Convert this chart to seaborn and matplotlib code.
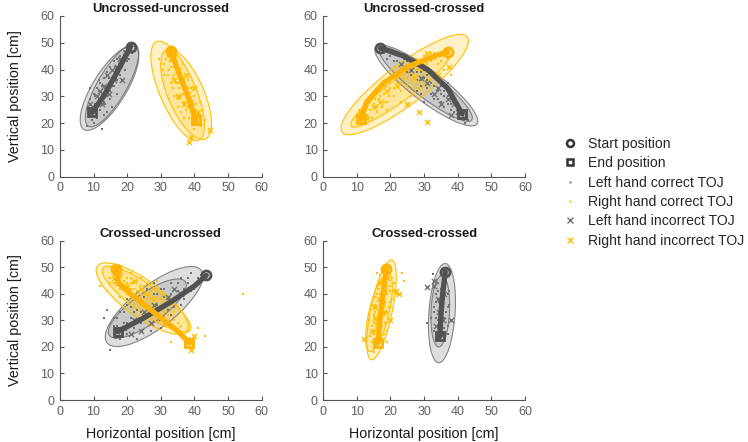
import matplotlib
matplotlib.use('Agg')
import matplotlib.pyplot as plt
from matplotlib.patches import Ellipse
from matplotlib.lines import Line2D
import seaborn as sns

# ---- data (cm) ----
titles = ['Uncrossed-uncrossed', 'Uncrossed-crossed', 'Crossed-uncrossed', 'Crossed-crossed']
ticks = [0, 10, 20, 30, 40, 50, 60]

# Uncrossed-uncrossed
uu_left_correct = [(8.5, 26), (9, 29), (9.5, 24), (10, 31), (10.5, 27), (11, 22), (11, 33), (11.5, 29),
                   (12, 25), (12, 35), (12.5, 31), (13, 28), (13, 37), (13.5, 33), (14, 30), (14, 39),
                   (14.5, 35), (15, 32), (15, 41), (15.5, 37), (16, 34), (16, 43), (16.5, 39), (17, 36),
                   (17.5, 42), (18, 38), (18, 45), (18.5, 41), (19, 44), (19.5, 40), (20, 46), (20, 43),
                   (21, 47), (12.5, 18), (8, 19), (10, 20), (15.5, 26), (17, 31), (9, 33), (13, 23),
                   (9.5, 21), (10, 26), (10.5, 30), (11, 25), (11.5, 32), (12, 28), (12.5, 34), (13, 31),
                   (13.5, 27), (14, 33), (14.5, 37), (15, 29), (15.5, 34), (16, 38), (16.5, 41), (17, 44),
                   (17.5, 39), (18.5, 43), (19, 47), (20.5, 44), (21.5, 46), (14, 24), (11.5, 36)]
uu_left_incorrect = [(10, 24), (11, 30), (12.5, 27), (13, 34), (14.5, 31), (15.5, 40), (16, 36),
                     (17, 41), (18, 44), (18.5, 36), (19.5, 45), (14, 38), (9, 27), (12, 32)]
uu_right_correct = [(29.5, 44), (31, 42), (32, 45), (32.5, 40), (33, 43), (33.5, 37), (34, 41), (34.5, 35),
                    (35, 39), (35.5, 33), (36, 37), (36, 30), (36.5, 34), (37, 28), (37.5, 32), (38, 26),
                    (38, 36), (38.5, 30), (39, 24), (39, 33), (39.5, 27), (40, 22), (40, 30), (40.5, 25),
                    (41, 20), (41.5, 28), (42, 22), (42.5, 25), (34, 30), (35, 26), (37, 22), (33, 35),
                    (31, 38), (40, 18), (43, 21), (36.5, 42),
                    (30.5, 40), (31.5, 44), (32, 38), (33, 41), (34, 38), (34.5, 43), (35, 35), (35.5, 29),
                    (36.5, 31), (37, 36), (37.5, 25), (38, 33), (38.5, 22), (39, 29), (39.5, 20), (40.5, 27),
                    (41, 23), (42, 19), (36, 24), (33.5, 33), (34.5, 45), (32.5, 47)]
uu_right_incorrect = [(33, 44), (35, 40), (36, 36), (37.5, 38), (38, 31), (39, 28), (40, 33), (41, 24),
                      (38.5, 13), (39, 15), (44.5, 17.5), (35, 30), (37, 27), (34, 36)]
uu_left_path = [(21, 48.5), (17, 39), (13, 30), (9.5, 24)]
uu_right_path = [(33, 47), (35, 40), (38, 30), (40.5, 21)]
uu_left_ellipses = [(14.75, 33.1, 34.5, 10.5, 65), (15.5, 34, 33.4, 9, 66)]
uu_right_ellipses = [(35, 32, 38.9, 11, -72), (37.5, 30.75, 35.3, 11, -72)]

# Uncrossed-crossed
uc_left_correct = [(18, 46), (20, 45), (21, 47), (22, 43), (23, 45), (24, 41), (25, 43), (25, 39),
                   (26, 42), (27, 38), (27, 41), (28, 36), (29, 39), (29, 34), (30, 37), (31, 33),
                   (31, 36), (32, 31), (33, 34), (33, 29), (34, 32), (35, 28), (35, 31), (36, 26),
                   (36, 30), (37, 27), (38, 25), (38, 29), (39, 24), (40, 26), (41, 22), (42, 24),
                   (43, 21), (30, 28), (28, 32), (24, 37), (32, 40), (37, 35),
                   (19, 44), (21, 43), (22, 46), (23, 40), (24, 44), (26, 38), (27, 43), (28, 39),
                   (29, 36), (30, 40), (31, 38), (32, 35), (33, 37), (34, 29), (35, 34), (36, 32),
                   (37, 30), (38, 27), (39, 28), (40, 23), (41, 25), (42, 20), (34, 36), (29, 31)]
uc_left_incorrect = [(23, 42), (26, 40), (29, 37), (31, 35), (33, 31), (34, 33), (35, 27), (37, 29),
                     (38, 23), (39, 27), (40, 24), (42, 22)]
uc_right_correct = [(10.5, 22), (11, 25), (12, 21), (12, 27), (13, 23), (13.5, 29), (14, 25), (15, 31),
                    (15, 27), (16, 24), (16.5, 29), (17, 33), (17.5, 26), (18, 31), (19, 35), (19, 28),
                    (20, 33), (20.5, 37), (21, 30), (22, 35), (22.5, 39), (23, 32), (24, 37), (25, 40),
                    (25, 34), (26, 42), (27, 38), (28, 44), (29, 40), (30, 45), (31, 42), (32, 46),
                    (33, 44), (34, 42), (35, 45), (36, 40), (37, 44), (38, 38), (26, 30), (21, 41),
                    (11.5, 23), (12.5, 24), (13, 26), (14, 28), (14.5, 22), (15.5, 29), (16, 26), (17, 30),
                    (18, 28), (18.5, 34), (19.5, 30), (20, 35), (21, 33), (22, 37), (23, 35), (24, 40),
                    (25, 37), (26, 39), (27, 41), (28, 40), (29, 43), (30, 41), (32, 43), (33, 46),
                    (35, 43), (36, 46), (23, 28), (19, 25)]
uc_right_incorrect = [(11, 24), (13, 22), (15, 26), (17, 28), (19, 32), (22, 34), (25, 27), (27, 37),
                      (30, 43), (31, 46), (28.5, 24), (31, 20.5), (37.5, 41), (34, 38)]
uc_left_path = [(17, 48), (24, 45), (31, 40), (37, 33), (41.3, 23.5)]
uc_right_path = [(37, 46.6), (33, 45), (25, 41), (18, 35), (13, 28), (11.2, 21.5)]
uc_left_ellipses = [(30.65, 34.05, 41.7, 10.5, -44.6), (30.5, 34.5, 38.2, 8.5, -45)]
uc_right_ellipses = [(24.25, 34.4, 51.5, 13.5, 44.6), (23, 32.5, 40.1, 7.5, 43.3)]

# Crossed-uncrossed
cu_left_correct = [(15, 19), (16, 31), (16, 25), (17, 28), (18, 33), (18, 23), (19, 29), (20, 36),
                   (20, 25), (21, 31), (22, 38), (22, 27), (23, 34), (24, 40), (24, 29), (25, 36),
                   (26, 42), (26, 31), (27, 38), (28, 33), (28, 44), (29, 40), (30, 35), (31, 42),
                   (31, 30), (32, 38), (33, 44), (34, 35), (35, 41), (36, 46), (37, 38), (38, 44),
                   (39, 48), (40, 42), (41, 46), (42, 47), (14, 34), (13, 31), (23, 23), (30, 27),
                   (16, 28), (17, 31), (18, 26), (19, 33), (20, 29), (21, 35), (22, 33), (23, 38),
                   (24, 33), (25, 39), (26, 36), (27, 33), (28, 40), (29, 36), (30, 42), (31, 39),
                   (32, 34), (33, 40), (34, 38), (35, 44), (36, 36), (37, 42), (38, 46), (39, 41),
                   (27, 26), (20, 38), (33, 32)]
cu_left_incorrect = [(17, 24), (19, 27), (21, 25), (22, 30), (24, 26), (25, 33), (27, 29), (28, 36),
                     (30, 31), (32, 39), (34, 42), (36, 40)]
cu_right_correct = [(12, 43), (15, 46), (16, 44), (17, 47), (18, 42), (18, 45), (19, 43), (20, 46),
                    (20, 40), (21, 44), (22, 42), (22, 38), (23, 45), (24, 40), (24, 36), (25, 43),
                    (26, 38), (26, 34), (27, 41), (28, 36), (28, 32), (29, 39), (30, 34), (30, 30),
                    (31, 37), (32, 32), (33, 28), (34, 30), (35, 26), (36, 28), (37, 24), (38, 26),
                    (39, 22), (33, 22), (41, 27), (43, 24), (54.5, 40), (21, 48), (24, 46), (14, 41),
                    (15, 44), (16, 47), (17, 45), (18, 48), (19, 45), (19, 41), (20, 44), (21, 42),
                    (21, 46), (22, 44), (23, 41), (23, 38), (24, 43), (25, 40), (25, 36), (26, 44),
                    (27, 38), (27, 35), (28, 42), (29, 35), (30, 38), (31, 33), (32, 36), (34, 33),
                    (35, 29), (29, 45), (18, 39)]
cu_right_incorrect = [(16, 46), (17, 44), (18, 47), (20, 43), (22, 45), (24, 42), (26, 40), (28, 38),
                      (38, 22), (39, 19), (40, 24), (39, 23)]
cu_left_path = [(43.5, 47), (40, 43), (33, 37), (25, 31), (17.2, 25.8)]
cu_right_path = [(16.8, 49.5), (17.5, 44), (22, 39), (30, 31), (35, 26), (38.5, 21.5)]
cu_left_ellipses = [(28, 35.25, 39.3, 14.5, 46.5), (26, 34.5, 30.4, 10.5, 43.7)]
cu_right_ellipses = [(24.5, 38.25, 36.4, 12.5, -44.4), (25.75, 38, 35, 9.5, -43)]

# Crossed-crossed
cc_left_correct = [(32.5, 47.5), (31, 29), (33, 26), (33, 35), (33.5, 40), (34, 23), (34, 30), (34, 44),
                   (34.5, 37), (35, 27), (35, 33), (35, 42), (35.5, 46), (36, 24), (36, 31), (36, 38),
                   (36.5, 44), (37, 28), (37, 35), (37.5, 41), (38, 30), (33.5, 31), (34.5, 25),
                   (33, 33), (33.5, 37), (34, 27), (34, 41), (34.5, 30), (35, 24), (35, 38), (35.5, 35),
                   (36, 27), (36, 43), (36.5, 33), (37, 40), (37, 25), (33.5, 45), (32, 31), (37.5, 36)]
cc_left_incorrect = [(31, 42.5), (33, 43), (34, 38), (34.5, 33), (33.5, 28), (35, 36), (36, 40),
                     (35.5, 30), (38, 30), (34, 24), (33, 45), (35, 25)]
cc_right_correct = [(14, 24), (14.5, 28), (15, 21), (15, 32), (15.5, 26), (15.5, 36), (16, 23), (16, 30),
                    (16, 40), (16.5, 34), (16.5, 44), (17, 27), (17, 38), (17, 47), (17.5, 31), (17.5, 42),
                    (18, 25), (18, 36), (18, 49), (18.5, 29), (18.5, 45), (19, 33), (19, 40), (19.5, 48),
                    (20, 37), (20, 43), (20.5, 46), (21, 41), (23.5, 48), (24, 45), (22, 40), (15, 18),
                    (13.5, 30), (19, 22), (16, 48),
                    (14.5, 22), (15, 25), (15, 29), (15.5, 33), (15.5, 39), (16, 27), (16, 35), (16.5, 31),
                    (16.5, 42), (17, 24), (17, 34), (17, 40), (17.5, 45), (17.5, 28), (18, 32), (18, 39),
                    (18, 44), (18.5, 37), (18.5, 48), (19, 26), (19, 43), (19.5, 35), (20, 41), (16, 20),
                    (20.5, 38), (21, 44)]
cc_right_incorrect = [(12, 23), (14.5, 26), (15, 35), (16, 29), (16.5, 38), (17, 44), (18, 33),
                      (18.5, 41), (19, 46), (20, 30), (21.5, 41), (22.5, 40), (15.5, 31), (17.5, 36)]
cc_left_path = [(36.3, 48.4), (35.5, 40), (35, 32), (34.7, 24)]
cc_right_path = [(18.8, 49.5), (18, 42), (17, 32), (16.3, 21.5)]
cc_left_ellipses = [(35.3, 32.75, 37.5, 7.8, 87), (34.8, 33.5, 27, 5.5, 88)]
cc_right_ellipses = [(17.35, 34, 38.1, 6.5, 81), (16.6, 33, 29.9, 6, 79.6)]

panels = [
    (uu_left_correct, uu_left_incorrect, uu_right_correct, uu_right_incorrect,
     uu_left_path, uu_right_path, uu_left_ellipses, uu_right_ellipses),
    (uc_left_correct, uc_left_incorrect, uc_right_correct, uc_right_incorrect,
     uc_left_path, uc_right_path, uc_left_ellipses, uc_right_ellipses),
    (cu_left_correct, cu_left_incorrect, cu_right_correct, cu_right_incorrect,
     cu_left_path, cu_right_path, cu_left_ellipses, cu_right_ellipses),
    (cc_left_correct, cc_left_incorrect, cc_right_correct, cc_right_incorrect,
     cc_left_path, cc_right_path, cc_left_ellipses, cc_right_ellipses),
]

# ---- style ----
sns.set_style('ticks')
plt.rcParams['font.family'] = ['Liberation Sans', 'DejaVu Sans']

gray_pt = '#737373'
gray_line = '#525252'
gray_fill = '#a3a3a3'
gray_edge = '#6a6a6a'
yel_pt = '#ffbf00'
yel_line = '#ffb300'
yel_fill = '#ffc000'
yel_edge = '#ffc000'
axis_col = '#555555'
tick_col = '#606060'

fig = plt.figure(figsize=(7.48, 4.42), dpi=100)
boxes = [[0.080, 0.600, 0.270, 0.364], [0.432, 0.600, 0.270, 0.364],
         [0.080, 0.095, 0.270, 0.360], [0.432, 0.095, 0.270, 0.360]]


def xs(pts):
    return [p[0] for p in pts]


def ys(pts):
    return [p[1] for p in pts]


for i, (box, title, data) in enumerate(zip(boxes, titles, panels)):
    ax = fig.add_axes(box)
    lc, li, rc, ri, lpath, rpath, lell, rell = data

    for (cx, cy, w, h, ang) in lell:
        ax.add_patch(Ellipse((cx, cy), w, h, angle=ang, facecolor=gray_fill, alpha=0.35,
                             edgecolor='none', zorder=1))
        ax.add_patch(Ellipse((cx, cy), w, h, angle=ang, facecolor='none',
                             edgecolor=gray_edge, lw=0.8, alpha=0.8, zorder=1.1))
    for (cx, cy, w, h, ang) in rell:
        ax.add_patch(Ellipse((cx, cy), w, h, angle=ang, facecolor=yel_fill, alpha=0.22,
                             edgecolor='none', zorder=1))
        ax.add_patch(Ellipse((cx, cy), w, h, angle=ang, facecolor='none',
                             edgecolor=yel_edge, lw=0.8, zorder=1.1))

    sns.scatterplot(x=xs(lc), y=ys(lc), ax=ax, color=gray_pt, marker='s', s=4,
                    linewidth=0, zorder=2)
    sns.scatterplot(x=xs(rc), y=ys(rc), ax=ax, color=yel_pt, marker='s', s=4,
                    linewidth=0, zorder=2)
    sns.scatterplot(x=xs(li), y=ys(li), ax=ax, color=gray_pt, marker='x', s=14,
                    linewidth=1, zorder=2)
    sns.scatterplot(x=xs(ri), y=ys(ri), ax=ax, color=yel_pt, marker='x', s=14,
                    linewidth=1, zorder=2)

    sns.lineplot(x=xs(lpath), y=ys(lpath), ax=ax, sort=False, estimator=None,
                 color=gray_line, linewidth=3.8, zorder=3)
    sns.lineplot(x=xs(rpath), y=ys(rpath), ax=ax, sort=False, estimator=None,
                 color=yel_line, linewidth=3.8, zorder=3)
    for path, col in [(lpath, gray_line), (rpath, yel_line)]:
        ax.plot(path[0][0], path[0][1], marker='o', ms=6.5, mfc='none', mec=col, mew=2, zorder=4)
        ax.plot(path[-1][0], path[-1][1], marker='s', ms=6, mfc='none', mec=col, mew=2, zorder=4)

    ax.set_xlim(0, 60)
    ax.set_ylim(0, 60)
    ax.set_xticks(ticks)
    ax.set_yticks(ticks)
    ax.set_title(title, fontsize=9.4, weight='bold', color='#1a1a1a', pad=3)
    for side in ['top', 'right']:
        ax.spines[side].set_visible(False)
    for side in ['left', 'bottom']:
        ax.spines[side].set_color(axis_col)
        ax.spines[side].set_linewidth(0.8)
    ax.tick_params(direction='in', length=3, width=0.8, colors=axis_col, labelcolor=tick_col,
                   labelsize=9, pad=4)
    if i % 2 == 0:
        ax.set_ylabel('Vertical position [cm]', fontsize=10.3, color='#1a1a1a', labelpad=13)
    if i >= 2:
        ax.set_xlabel('Horizontal position [cm]', fontsize=10.3, color='#1a1a1a', labelpad=7)

handles = [
    Line2D([], [], ls='none', marker='o', ms=5, mfc='none', mec='#333333', mew=1.8),
    Line2D([], [], ls='none', marker='s', ms=5, mfc='none', mec='#333333', mew=1.8),
    Line2D([], [], ls='none', marker='s', ms=2, mfc=gray_pt, mec='none'),
    Line2D([], [], ls='none', marker='s', ms=2, mfc=yel_pt, mec='none'),
    Line2D([], [], ls='none', marker='x', ms=4, mec=gray_pt, mew=1),
    Line2D([], [], ls='none', marker='x', ms=4, mec=yel_pt, mew=1),
]
labels = ['Start position', 'End position', 'Left hand correct TOJ', 'Right hand correct TOJ',
          'Left hand incorrect TOJ', 'Right hand incorrect TOJ']
fig.legend(handles, labels, loc='upper left', bbox_to_anchor=(0.743, 0.703), frameon=False,
           fontsize=10.1, handlelength=1.2, handletextpad=0.7, labelspacing=0.38,
           borderaxespad=0)

fig.savefig('out.png', dpi=100)
